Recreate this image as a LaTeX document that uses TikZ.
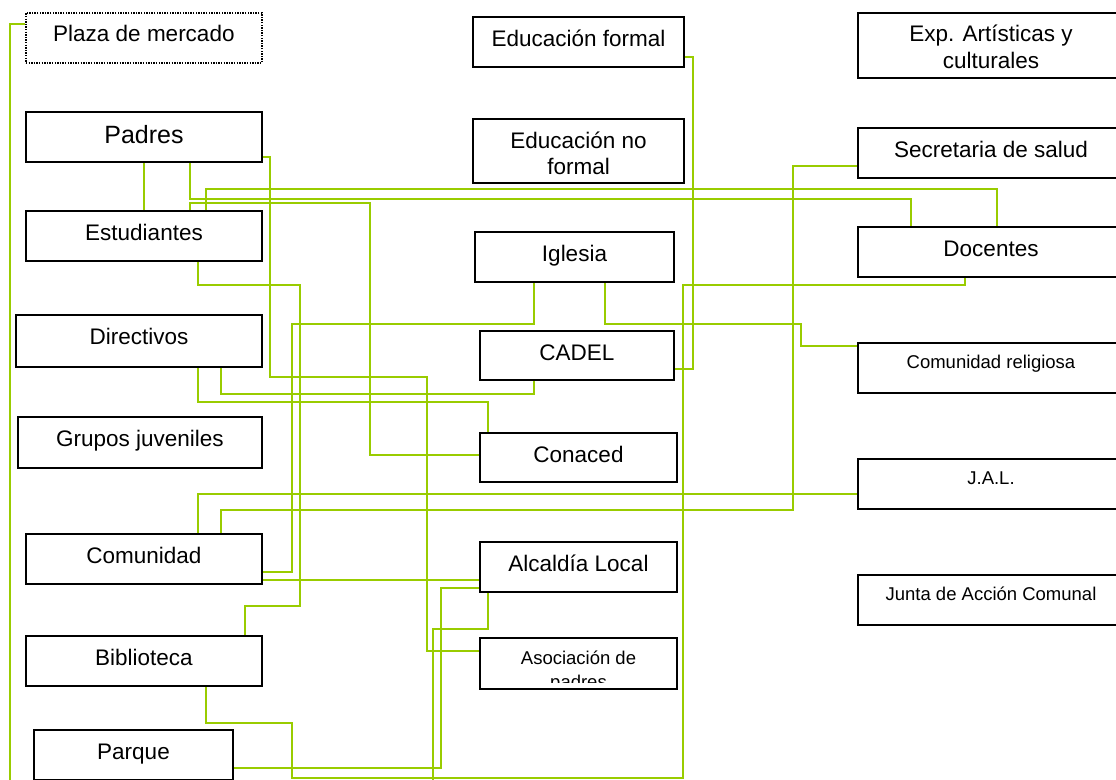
\documentclass[tikz,border=0pt]{standalone}
\usepackage{fontspec}
\setmainfont{Liberation Sans}
\usetikzlibrary{calc}
\definecolor{lima}{RGB}{153,204,0}

\begin{document}
\begin{tikzpicture}[x=1pt, y=-1pt,
    actor/.style={draw, line width=2pt, fill=white, inner sep=0pt, anchor=north west,
        font=\fontsize{22.5}{26}\selectfont, text height=29pt, text depth=21pt},
    smalltext/.style={font=\fontsize{18.5}{22}\selectfont, text height=25pt, text depth=25pt},
    wire/.style={draw=lima, line width=2.2pt}]

            \useasboundingbox (0,0) rectangle (1116,779);
            \clip (0,0) rectangle (1116,779);

            % Left column
            \node (plaza) [actor, dash pattern=on 1.4pt off 1.2pt, line width=1.8pt, minimum width=236pt] at (25,12) {Plaza de mercado};
            \node (padres) [actor, minimum width=236pt, font=\fontsize{25}{29}\selectfont, text height=31pt, text depth=19pt] at (25,111) {Padres};
            \node (estud) [actor, minimum width=236pt] at (25,210) {Estudiantes};
            \node (direct) [actor, minimum width=246pt, text depth=23pt] at (15,314) {Directivos};
            \node (grupos) [actor, minimum width=244pt, text depth=22pt] at (17,416) {Grupos juveniles};
            \node (comun) [actor, minimum width=236pt] at (25,533) {Comunidad};
            \node (biblio) [actor, minimum width=236pt] at (25,635) {Biblioteca};
            \node (parque) [actor, minimum width=199pt] at (33,729) {Parque};

            % Middle column
            \node (eduform) [actor, minimum width=211pt] at (472,16) {Educación formal};
            \node (edunof) [actor, minimum width=211pt, text depth=35pt] at (472,118) {\begin{tabular}[t]{@{}c@{}}Educación no\\formal\end{tabular}};
            \node (iglesia) [actor, minimum width=199pt] at (474,231) {Iglesia};
            \node (cadel) [actor, minimum width=194pt, text depth=20pt] at (479,330) {CADEL};
            \node (conaced) [actor, minimum width=197pt, text depth=20pt] at (479,432) {Conaced};
            \node (alcaldia) [actor, minimum width=197pt] at (479,541) {Alcaldía Local};
            \node (asoc) [actor, smalltext, minimum width=197pt, text height=26pt,
                path picture={
                    \clip (path picture bounding box.north west) rectangle ([yshift=7pt]path picture bounding box.south east);
                    \node [anchor=base, draw=none, fill=none, inner sep=0pt, font=\fontsize{18.5}{24}\selectfont]
                        at ([yshift=-26pt]path picture bounding box.north) {\begin{tabular}[t]{@{}c@{}}Asociación de\\padres\end{tabular}};
                }] at (479,637) {};

            % Right column
            \node (exp) [actor, minimum width=266pt, font=\fontsize{22.5}{28}\selectfont, text height=28pt, text depth=37pt] at (857,12) {\begin{tabular}[t]{@{}c@{}}Exp. Artísticas y\\culturales\end{tabular}};
            \node (secsalud) [actor, minimum width=266pt] at (857,127) {Secretaria de salud};
            \node (docentes) [actor, minimum width=266pt] at (857,226) {Docentes};
            \node (comrel) [actor, smalltext, minimum width=266pt] at (857,342) {Comunidad religiosa};
            \node (jal) [actor, smalltext, minimum width=266pt] at (857,458) {J.A.L.};
            \node (junta) [actor, smalltext, minimum width=266pt] at (857,574) {Junta de Acción Comunal};

            % Loose ends at the bottom
            \coordinate (plazaEnd) at (10,781);
            \coordinate (alcEnd) at (433,781);

            % Connectors
            \draw [wire] ($(plaza.north west)+(0,12)$) -| (plazaEnd);
            \draw [wire] (padres.south) -- (estud.north);
            \draw [wire] ($(padres.south west)+(165,0)$) -- ++(0,36) -| ($(docentes.north west)+(54,0)$);
            \draw [wire] ($(estud.north west)+(181,0)$) -- ++(0,-21) -| ($(docentes.north west)+(140,0)$);
            \draw [wire] ($(estud.north west)+(165,0)$) -- ++(0,-7) -- ++(180,0) |- ($(conaced.north west)+(0,23)$);
            \draw [wire] ($(padres.north east)+(0,46)$) -- ++(7,0) -- ++(0,220) -- ++(157,0) |- ($(asoc.north west)+(0,14)$);
            \draw [wire] ($(estud.south west)+(173,0)$) -- ++(0,23) -- ++(102,0) -- ++(0,321) -| ($(biblio.north west)+(220,0)$);
            \draw [wire] ($(iglesia.south west)+(60,0)$) -- ++(0,41) -- ++(-242,0) |- ($(comun.north east)+(0,39)$);
            \draw [wire] ($(iglesia.south west)+(131,0)$) -- ++(0,41) -- ++(196,0) |- ($(comrel.north west)+(0,4)$);
            \draw [wire] ($(eduform.north east)+(0,41)$) -- ++(8,0) |- ($(cadel.north east)+(0,39)$);
            \draw [wire] ($(biblio.south west)+(181,0)$) -- ++(0,36) -- ++(86,0) -- ++(0,55) -- ++(391,0) -- ++(0,-493) -| ($(docentes.south west)+(108,0)$);
            \draw [wire] ($(direct.south west)+(206,0)$) -- ++(0,26) -| ($(cadel.south west)+(55,0)$);
            \draw [wire] ($(direct.south west)+(183,0)$) -- ++(0,34) -| ($(conaced.north west)+(9,0)$);
            \draw [wire] ($(comun.north west)+(173,0)$) |- ($(jal.north west)+(0,36)$);
            \draw [wire] ($(secsalud.north west)+(0,39)$) -- ++(-64,0) -- ++(0,344) -| ($(comun.north west)+(196,0)$);
            \draw [wire] ($(comun.north east)+(0,47)$) -- ($(alcaldia.north west)+(0,39)$);
            \draw [wire] ($(alcaldia.north west)+(0,47)$) -- ++(-38,0) |- ($(parque.north east)+(0,39)$);
            \draw [wire] ($(alcaldia.south west)+(9,0)$) -- ++(0,36) -| (alcEnd);

\end{tikzpicture}
\end{document}
